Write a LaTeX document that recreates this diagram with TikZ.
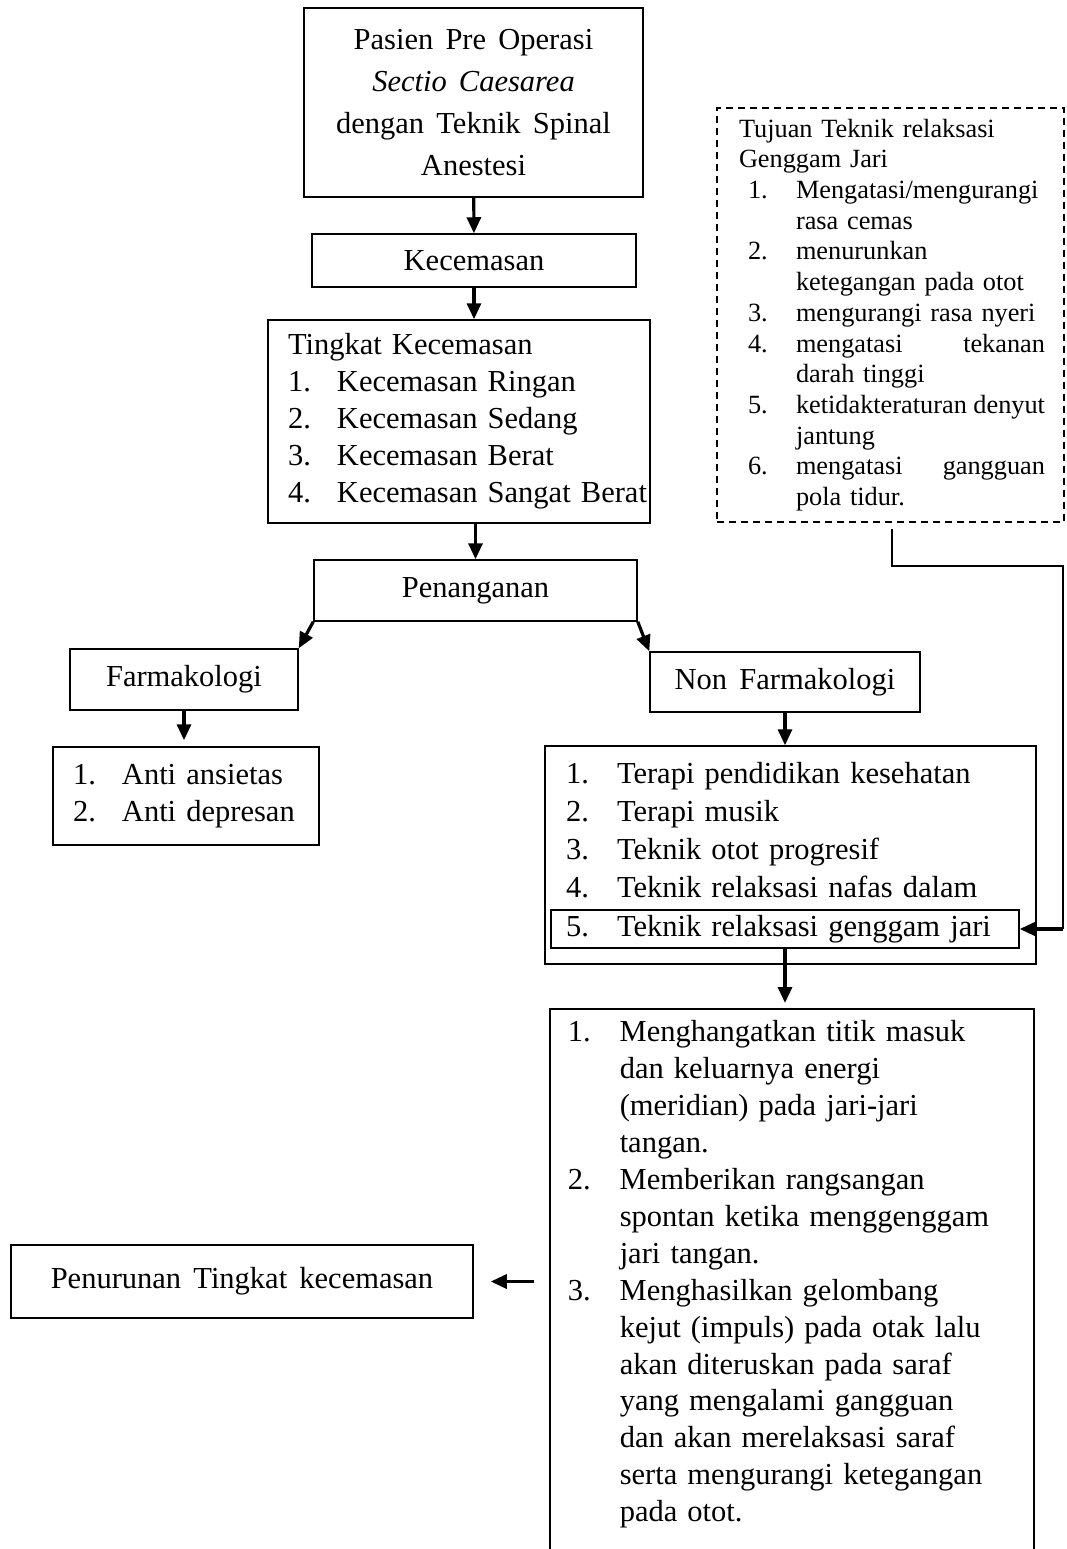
\documentclass[tikz,border=0pt]{standalone}
\usepackage{fontspec}
\setmainfont{Liberation Serif}[WordSpace=1.6]
\usetikzlibrary{arrows.meta}

\newcommand{\nm}[3][49pt]{\mbox{\makebox[#1][l]{#2}#3}}
\newcommand{\sm}[2]{\mbox{\hspace*{9pt}\makebox[48pt][l]{#1}#2}}

\begin{document}
\begin{tikzpicture}[x=1pt,y=-1pt,>={Triangle[length=16pt,width=14pt]},
    main node/.style={draw,line width=1.5pt,inner sep=0pt,font={\fontsize{30.5}{37}\selectfont}},
    list node/.style={main node,align=left},
    note node/.style={draw,line width=1.5pt,dash pattern=on 7pt off 5pt,align=left,font={\fontsize{26.3}{30.7}\selectfont}},
    flow/.style={->,line width=3.2pt},
    link/.style={line width=1.5pt}]
    \useasboundingbox (0,0) rectangle (1066,1549);

    \node[main node,minimum width=339pt,minimum height=189pt,align=center,font={\fontsize{30.5}{42}\selectfont}] (pasien) at (473.5,102.5)
        {Pasien Pre Operasi\\ \textit{Sectio Caesarea}\\ dengan Teknik Spinal\\ Anestesi};
    \node[main node,minimum width=324pt,minimum height=53pt] (kec) at (474,260.5) {Kecemasan};
    \node[list node,text width=342pt,inner xsep=20pt,minimum height=203pt] (tingkat) at (459,421.5)
        {Tingkat Kecemasan\\
         \nm{1.}{Kecemasan Ringan}\\
         \nm{2.}{Kecemasan Sedang}\\
         \nm{3.}{Kecemasan Berat}\\
         \nm{4.}{Kecemasan Sangat Berat}};
    \node[main node,minimum width=323pt,minimum height=61pt] (pen) at (475.5,590.5) {Penanganan};
    \node[main node,minimum width=228pt,minimum height=61pt] (farm) at (184,679.5) {Farmakologi};
    \node[list node,text width=226pt,inner xsep=20pt,minimum height=98pt] (anti) at (186,796)
        {\nm{1.}{Anti ansietas}\\
         \nm{2.}{Anti depresan}};
    \node[main node,minimum width=270pt,minimum height=60pt] (nonfarm) at (785,682) {Non Farmakologi};
    \node[list node,text width=449pt,inner xsep=21pt,minimum height=218pt,font={\fontsize{30.5}{38}\selectfont}] (terapi) at (790.5,855)
        {\nm[51pt]{1.}{Terapi pendidikan kesehatan}\\
         \nm[51pt]{2.}{Terapi musik}\\
         \nm[51pt]{3.}{Teknik otot progresif}\\
         \nm[51pt]{4.}{Teknik relaksasi nafas dalam}\\
         \strut};
    \node[list node,text width=438pt,inner xsep=15pt,minimum height=38pt] (genggam) at (785,929)
        {\nm[51pt]{5.}{Teknik relaksasi genggam jari}};
    \node[list node,anchor=north west,text width=448pt,inner xsep=18pt,inner ysep=12pt,font={\fontsize{30.5}{36.9}\selectfont}] (efek) at (549,1008)
        {\nm[52pt]{1.}{Menghangatkan titik masuk}\\
         \nm[52pt]{}{dan keluarnya energi}\\
         \nm[52pt]{}{(meridian) pada jari-jari}\\
         \nm[52pt]{}{tangan.}\\
         \nm[52pt]{2.}{Memberikan rangsangan}\\
         \nm[52pt]{}{spontan ketika menggenggam}\\
         \nm[52pt]{}{jari tangan.}\\
         \nm[52pt]{3.}{Menghasilkan gelombang}\\
         \nm[52pt]{}{kejut (impuls) pada otak lalu}\\
         \nm[52pt]{}{akan diteruskan pada saraf}\\
         \nm[52pt]{}{yang mengalami gangguan}\\
         \nm[52pt]{}{dan akan merelaksasi saraf}\\
         \nm[52pt]{}{serta mengurangi ketegangan}\\
         \nm[52pt]{}{pada otot.}\\
         \strut};
    \node[main node,minimum width=462pt,minimum height=73pt] (turun) at (242,1281.5) {Penurunan Tingkat kecemasan};
    \node[note node,text width=303pt,inner xsep=22pt,minimum height=414pt] (tujuan) at (890.5,315)
        {Tujuan Teknik relaksasi\\
         Genggam Jari\\
         \sm{1.}{Mengatasi/mengurangi}\\
         \sm{}{rasa cemas}\\
         \sm{2.}{menurunkan}\\
         \sm{}{ketegangan pada otot}\\
         \sm{3.}{mengurangi rasa nyeri}\\
         \sm{4.}{\makebox[249pt]{mengatasi\hfill tekanan}}\\
         \sm{}{darah tinggi}\\
         \sm{5.}{\makebox[249pt]{ketidakteraturan\hfill denyut}}\\
         \sm{}{jantung}\\
         \sm{6.}{\makebox[249pt]{mengatasi\hfill gangguan}}\\
         \sm{}{pola tidur.}};

    \coordinate (bend) at (1063,566);

    \draw[flow] (pasien) -- (kec);
    \draw[flow] (kec) -- (kec |- tingkat.north);
    \draw[flow] (tingkat.south -| pen) -- (pen);
    \draw[flow] (pen.south west) -- (farm.north east);
    \draw[flow] (pen.south east) -- (nonfarm.north west);
    \draw[flow,shorten >=6pt] (farm) -- (farm |- anti.north);
    \draw[flow] (nonfarm) -- (nonfarm |- terapi.north);
    \draw[flow,shorten >=5pt] (genggam) -- (genggam |- efek.north);
    \draw[flow,shorten >=17pt] ([xshift=-15pt]efek.west |- turun) -- (turun);
    \draw[link] ([xshift=1.5pt,yshift=-6pt]tujuan.south) |- (bend) -- (bend |- genggam.east);
    \draw[flow] (bend |- genggam.east) -- (genggam.east);
\end{tikzpicture}
\end{document}
